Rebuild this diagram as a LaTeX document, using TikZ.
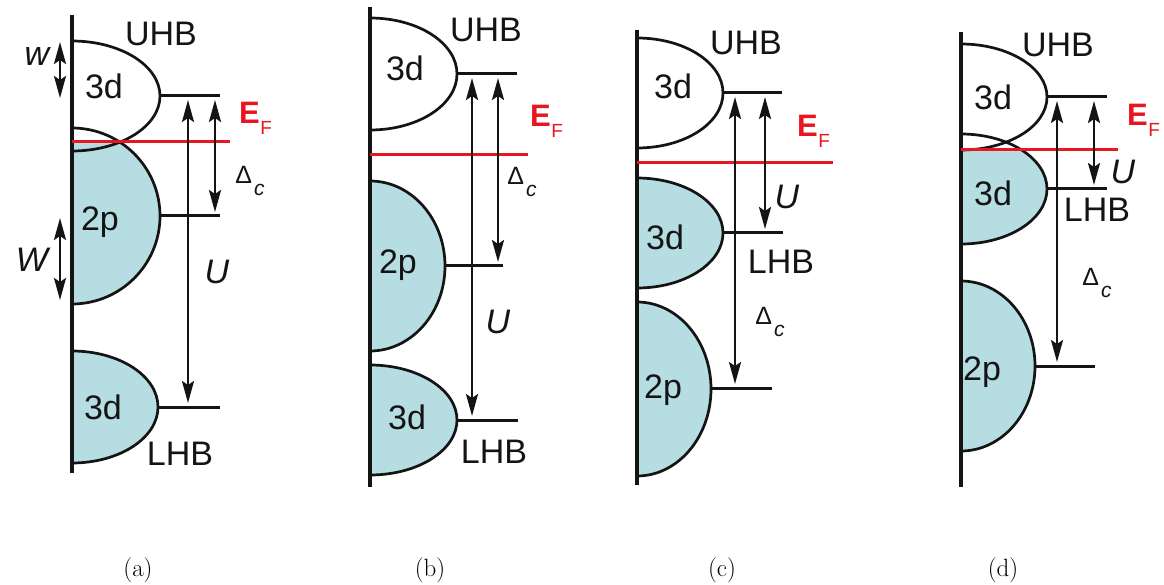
\documentclass[tikz,border=0pt]{standalone}
\usepackage{fontspec}
\newfontfamily\labfont{Liberation Sans}
\usetikzlibrary{arrows.meta}
\definecolor{bandfill}{RGB}{182,221,226}
\definecolor{efred}{RGB}{232,22,32}
\definecolor{inkc}{RGB}{20,20,20}
\newcommand\lobe[4]{(#1,{-(#2)+(#4)}) arc[start angle=90,end angle=-90,x radius=#3pt,y radius=#4pt]}
\newcommand\EFtext{\textcolor{efred}{{\fontsize{31}{34}\selectfont\bfseries E}\kern0.5pt\raisebox{-0.3em}{\fontsize{19}{19}\selectfont F}}}
\newcommand\Dctext{{\fontsize{25}{28}\selectfont Δ}\kern2pt\raisebox{-0.35em}{\fontsize{21}{21}\selectfont\itshape c}}
\tikzset{
 lab/.style={font=\labfont\fontsize{34}{36}\selectfont, text=inkc, inner sep=0pt},
 captext/.style={font=\fontsize{25}{28}\selectfont, inner sep=0pt},
 axisline/.style={line width=3.2pt, draw=inkc},
 lobeline/.style={line width=2.7pt, draw=inkc},
 levelline/.style={line width=3pt, draw=inkc},
 efline/.style={line width=3pt, draw=efred},
 dimarrow/.style={line width=2.4pt, draw=inkc, shorten <=4pt, shorten >=4pt,
   {Stealth[length=22pt,width=12pt,inset=4pt]}-{Stealth[length=22pt,width=12pt,inset=4pt]}},
}
\begin{document}
\begin{tikzpicture}[x=1pt,y=1pt]
\useasboundingbox (0,0) rectangle (1164,-585);
\fill[white] (0,0) rectangle (1164,-585);

%%%%%%%%%%%%%%%% (a)
\begin{scope}
\clip (72,-142) rectangle (300,-520);
\fill[bandfill] \lobe{72}{216}{88}{88} -- cycle;
\fill[bandfill] \lobe{72}{407}{86}{56} -- cycle;
\end{scope}
\draw[lobeline] \lobe{72}{96}{88}{55};
\draw[lobeline] \lobe{72}{216}{88}{88};
\draw[lobeline] \lobe{72}{407}{86}{56};
\coordinate (a-ax0) at (72,-15); \coordinate (a-ax1) at (72,-473);
\draw[axisline] (a-ax0) -- (a-ax1);
\coordinate (a-l1a) at (160,-96);  \coordinate (a-l1b) at (220,-96);
\coordinate (a-l2a) at (160,-216); \coordinate (a-l2b) at (220,-216);
\coordinate (a-l3a) at (158,-407); \coordinate (a-l3b) at (220,-407);
\draw[levelline] (a-l1a) -- (a-l1b);
\draw[levelline] (a-l2a) -- (a-l2b);
\draw[levelline] (a-l3a) -- (a-l3b);
\coordinate (a-ef0) at (72,-142); \coordinate (a-ef1) at (230,-142);
\draw[efline] (a-ef0) -- (a-ef1);
\coordinate (a-Ut) at (188,-96); \coordinate (a-Ub) at (188,-407);
\coordinate (a-Dt) at (215,-96); \coordinate (a-Db) at (215,-216);
\draw[dimarrow] (a-Ut) -- (a-Ub);
\draw[dimarrow] (a-Dt) -- (a-Db);
\coordinate (a-wt) at (60,-38); \coordinate (a-wb) at (60,-102);
\coordinate (a-Wt) at (60,-214); \coordinate (a-Wb) at (60,-304);
\draw[dimarrow] (a-wt) -- (a-wb);
\draw[dimarrow] (a-Wt) -- (a-Wb);
\node[lab] (a-uhb) at (161,-34) {UHB};
\node[lab] (a-3du) at (104,-86) {3d};
\node[lab] (a-2p) at (100,-222) {2p};
\node[lab] (a-3dl) at (103,-407) {3d};
\node[lab] (a-lhb) at (180,-454) {LHB};
\node[lab, anchor=base west] (a-ef) at (239,-124) {\EFtext};
\node[lab] (a-dc) at (250,-181) {\Dctext};
\node[lab] (a-U) at (217,-272) {\itshape U};
\node[lab] (a-w) at (37,-57) {\itshape w};
\node[lab] (a-W) at (32,-260) {\itshape W};
\node[captext] (a-cap) at (138,-570) {(a)};

%%%%%%%%%%%%%%%% (b)
\begin{scope}
\clip (370,-155) rectangle (600,-520);
\fill[bandfill] \lobe{370}{266}{75}{85} -- cycle;
\fill[bandfill] \lobe{370}{420}{87}{55} -- cycle;
\end{scope}
\draw[lobeline] \lobe{370}{74}{87}{56};
\draw[lobeline] \lobe{370}{266}{75}{85};
\draw[lobeline] \lobe{370}{420}{87}{55};
\coordinate (b-ax0) at (370,-7); \coordinate (b-ax1) at (370,-487);
\draw[axisline] (b-ax0) -- (b-ax1);
\coordinate (b-l1a) at (457,-74);  \coordinate (b-l1b) at (517,-74);
\coordinate (b-l2a) at (445,-266); \coordinate (b-l2b) at (503,-266);
\coordinate (b-l3a) at (457,-420); \coordinate (b-l3b) at (518,-420);
\draw[levelline] (b-l1a) -- (b-l1b);
\draw[levelline] (b-l2a) -- (b-l2b);
\draw[levelline] (b-l3a) -- (b-l3b);
\coordinate (b-ef0) at (370,-155); \coordinate (b-ef1) at (528,-155);
\draw[efline] (b-ef0) -- (b-ef1);
\coordinate (b-Ut) at (472,-74); \coordinate (b-Ub) at (472,-420);
\coordinate (b-Dt) at (498,-74); \coordinate (b-Db) at (498,-266);
\draw[dimarrow] (b-Ut) -- (b-Ub);
\draw[dimarrow] (b-Dt) -- (b-Db);
\node[lab] (b-uhb) at (486,-30) {UHB};
\node[lab] (b-3du) at (405,-68) {3d};
\node[lab] (b-2p) at (398,-265) {2p};
\node[lab] (b-3dl) at (407,-417) {3d};
\node[lab] (b-lhb) at (494,-452) {LHB};
\node[lab, anchor=base west] (b-ef) at (530,-127) {\EFtext};
\node[lab] (b-dc) at (522,-182) {\Dctext};
\node[lab] (b-U) at (498,-322) {\itshape U};
\node[captext] (b-cap) at (430,-570) {(b)};

%%%%%%%%%%%%%%%% (c)
\begin{scope}
\clip (637,-163) rectangle (880,-520);
\fill[bandfill] \lobe{637}{233}{86}{55} -- cycle;
\fill[bandfill] \lobe{637}{389}{74}{87} -- cycle;
\end{scope}
\draw[lobeline] \lobe{637}{93}{86}{55};
\draw[lobeline] \lobe{637}{233}{86}{55};
\draw[lobeline] \lobe{637}{389}{74}{87};
\coordinate (c-ax0) at (637,-30); \coordinate (c-ax1) at (637,-485);
\draw[axisline] (c-ax0) -- (c-ax1);
\coordinate (c-l1a) at (723,-93);  \coordinate (c-l1b) at (782,-93);
\coordinate (c-l2a) at (723,-233); \coordinate (c-l2b) at (783,-233);
\coordinate (c-l3a) at (711,-388); \coordinate (c-l3b) at (772,-388);
\draw[levelline] (c-l1a) -- (c-l1b);
\draw[levelline] (c-l2a) -- (c-l2b);
\draw[levelline] (c-l3a) -- (c-l3b);
\coordinate (c-ef0) at (637,-163); \coordinate (c-ef1) at (833,-163);
\draw[efline] (c-ef0) -- (c-ef1);
\coordinate (c-Dt) at (735,-93); \coordinate (c-Db) at (735,-388);
\coordinate (c-Ut) at (765,-93); \coordinate (c-Ub) at (765,-233);
\draw[dimarrow] (c-Dt) -- (c-Db);
\draw[dimarrow] (c-Ut) -- (c-Ub);
\node[lab] (c-uhb) at (746,-43) {UHB};
\node[lab] (c-3du) at (673,-86) {3d};
\node[lab] (c-3dl) at (665,-237) {3d};
\node[lab] (c-2p) at (663,-390) {2p};
\node[lab] (c-lhb) at (781,-262) {LHB};
\node[lab, anchor=base west] (c-ef) at (797,-137) {\EFtext};
\node[lab] (c-U) at (787,-197) {\itshape U};
\node[lab] (c-dc) at (770,-322) {\Dctext};
\node[captext] (c-cap) at (722,-570) {(c)};

%%%%%%%%%%%%%%%% (d)
\begin{scope}
\clip (961,-150) rectangle (1164,-520);
\fill[bandfill] \lobe{961}{189}{86}{55} -- cycle;
\fill[bandfill] \lobe{961}{366}{74}{85} -- cycle;
\end{scope}
\draw[lobeline] \lobe{961}{97}{86}{53};
\draw[lobeline] \lobe{961}{189}{86}{55};
\draw[lobeline] \lobe{961}{366}{74}{85};
\coordinate (d-ax0) at (961,-32); \coordinate (d-ax1) at (961,-487);
\draw[axisline] (d-ax0) -- (d-ax1);
\coordinate (d-l1a) at (1047,-97);  \coordinate (d-l1b) at (1107,-97);
\coordinate (d-l2a) at (1047,-189); \coordinate (d-l2b) at (1107,-189);
\coordinate (d-l3a) at (1035,-366); \coordinate (d-l3b) at (1095,-366);
\draw[levelline] (d-l1a) -- (d-l1b);
\draw[levelline] (d-l2a) -- (d-l2b);
\draw[levelline] (d-l3a) -- (d-l3b);
\coordinate (d-ef0) at (961,-150); \coordinate (d-ef1) at (1118,-150);
\draw[efline] (d-ef0) -- (d-ef1);
\coordinate (d-Dt) at (1057,-97); \coordinate (d-Db) at (1057,-366);
\coordinate (d-Ut) at (1094,-97); \coordinate (d-Ub) at (1094,-189);
\draw[dimarrow] (d-Dt) -- (d-Db);
\draw[dimarrow] (d-Ut) -- (d-Ub);
\node[lab] (d-uhb) at (1058,-45) {UHB};
\node[lab] (d-3du) at (993,-97) {3d};
\node[lab] (d-3dl) at (993,-193) {3d};
\node[lab] (d-2p) at (982,-372) {2p};
\node[lab] (d-lhb) at (1097,-210) {LHB};
\node[lab, anchor=base west] (d-ef) at (1127,-126) {\EFtext};
\node[lab] (d-U) at (1123,-172) {\itshape U};
\node[lab] (d-dc) at (1097,-283) {\Dctext};
\node[captext] (d-cap) at (1003,-570) {(d)};
\end{tikzpicture}
\end{document}
